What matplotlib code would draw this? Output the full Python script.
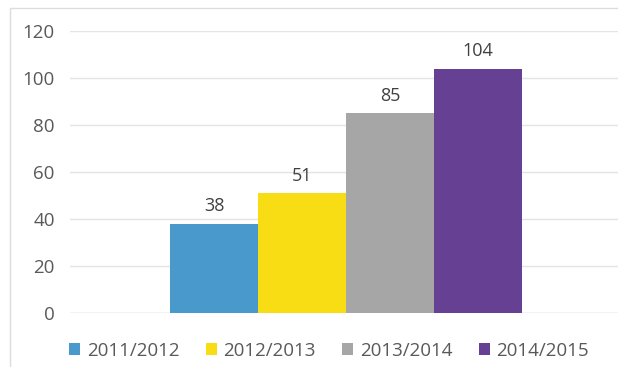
import numpy as np
import matplotlib
matplotlib.use('Agg')
import matplotlib.pyplot as plt
from matplotlib.patches import Rectangle

# seasons and their counts
seasons = ['2011/2012', '2012/2013', '2013/2014', '2014/2015']
counts = [38, 51, 85, 104]
colours = ['#4A99CC', '#F8DC14', '#A6A6A6', '#664193']
yticks = [0, 20, 40, 60, 80, 100, 120]

plt.rcParams['font.family'] = ['Open Sans', 'DejaVu Sans']

fig = plt.figure(figsize=(6.18, 3.67), dpi=100)
fig.patch.set_facecolor('white')

# light frame around the chart area (runs off the right and bottom edges)
fig.patches.append(Rectangle((10 / 618, -0.1), 1.2, 1.1 - 8 / 367,
                             transform=fig.transFigure, fill=False,
                             edgecolor='#DCDCDC', linewidth=1.0))

ax = fig.add_axes([70 / 618, (367 - 313) / 367, 548 / 618, 282 / 367])

x = np.arange(len(seasons))
bars = ax.bar(x, counts, width=1.0, color=colours, label=seasons, zorder=3)
ax.bar_label(bars, labels=[str(c) for c in counts], padding=6,
             fontsize=13, color='#404040')

ax.set_xlim(-0.5 - 100 / 88, 3.5 + 96 / 88)
ax.set_ylim(0, 120)
ax.set_yticks(yticks)
ax.set_xticks([])
ax.yaxis.grid(True, color='#E4E4E4', linewidth=1.0, zorder=0)
ax.tick_params(axis='y', length=0, pad=11, labelsize=13.5, labelcolor='#595959')
for side in ['top', 'right', 'left', 'bottom']:
    ax.spines[side].set_visible(False)
ax.axhline(0, color='#D9D9D9', linewidth=1.0, zorder=2)

fig.legend(handles=bars.patches, labels=seasons, loc='center',
           bbox_to_anchor=(329 / 618, 16 / 367), ncol=4, frameon=False,
           fontsize=13.5, labelcolor='#595959', handlelength=0.6,
           handleheight=0.6, handletextpad=0.35, columnspacing=1.4)

fig.savefig('out.png', dpi=100, facecolor='white')
